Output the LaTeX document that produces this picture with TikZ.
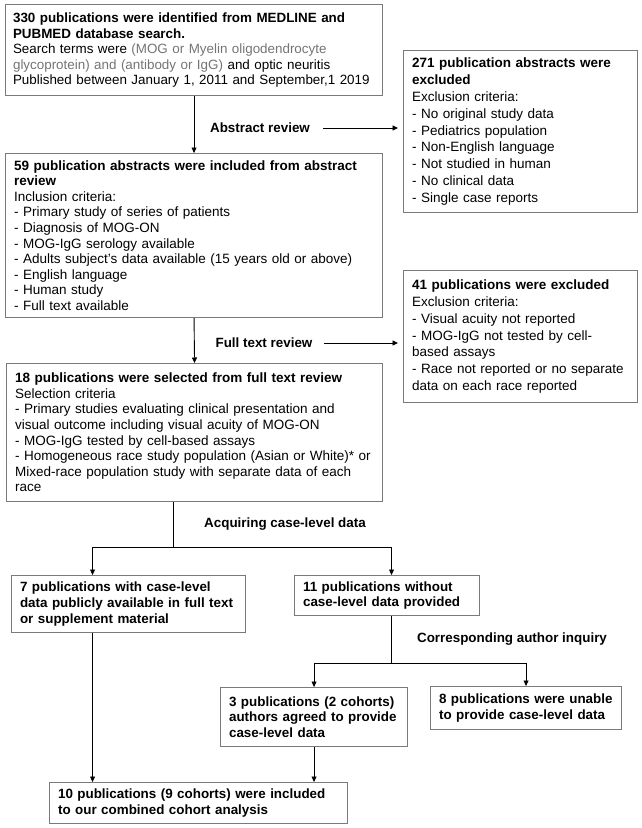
\documentclass[tikz,border=0pt]{standalone}
\usepackage{fontspec}
\setmainfont{Liberation Sans}
\usetikzlibrary{arrows.meta}
\definecolor{boxgray}{HTML}{7A7A7A}
\definecolor{txtgray}{HTML}{747474}
\newcommand{\bodyfont}{\fontsize{13.4}{15.5}\selectfont}
\newcommand{\widefont}{\fontsize{13.5}{16.9}\selectfont}
\newcommand{\tightfont}{\fontsize{13.5}{15.6}\selectfont}
\newcommand{\lowfont}{\fontsize{13.4}{15.6}\selectfont\bfseries}
\tikzset{
  box/.style={draw=boxgray, line width=1.1pt, inner xsep=8.5pt, inner ysep=2pt,
    anchor=north west, align=left},
  conn/.style={line width=0.9pt, draw=black},
  arr/.style={conn, -{Triangle[length=5.5pt,width=5pt]}},
  lab/.style={inner sep=0pt, font=\bfseries\fontsize{13.4}{15}\selectfont}
}
\begin{document}
\begin{tikzpicture}[x=1pt,y=-1pt]
\useasboundingbox (0,0) rectangle (642,828);
% boxes
\node[box, font=\bodyfont, inner xsep=7.5pt, text width=362pt, minimum height=91pt] (b1) at (5,4)
 {\textbf{330 publications were identified from MEDLINE and}\\
  \textbf{PUBMED database search.}\\
  Search terms were \textcolor{txtgray}{(MOG or Myelin oligodendrocyte}\\
  \textcolor{txtgray}{glycoprotein) and (antibody or IgG)} and optic neuritis\\
  Published between January 1, 2011 and September,1 2019};
\node[box, font=\widefont, text width=217pt, minimum height=162pt] (b271) at (403,50)
 {\textbf{271 publication abstracts were}\\
  \textbf{excluded}\\
  Exclusion criteria:\\
  - No original study data\\
  - Pediatrics population\\
  - Non-English language\\
  - Not studied in human\\
  - No clinical data\\
  - Single case reports};
\node[box, font=\tightfont, text width=360pt, minimum height=164pt] (b59) at (5,153)
 {\textbf{59 publication abstracts were included from abstract}\\
  \textbf{review}\\
  Inclusion criteria:\\
  - Primary study of series of patients\\
  - Diagnosis of MOG-ON\\
  - MOG-IgG serology available\\
  - Adults subject's data available (15 years old or above)\\
  - English language\\
  - Human study\\
  - Full text available};
\node[box, font=\widefont, text width=217pt, minimum height=132pt] (b41) at (403,270)
 {\textbf{41 publications were excluded}\\
  Exclusion criteria:\\
  - Visual acuity not reported\\
  - MOG-IgG not tested by cell-\\
  based assays\\
  - Race not reported or no separate\\
  data on each race reported};
\node[box, font=\tightfont, text width=359pt, minimum height=138pt] (b18) at (6,363)
 {\textbf{18 publications were selected from full text review}\\
  Selection criteria\\
  - Primary studies evaluating clinical presentation and\\
  visual outcome including visual acuity of MOG-ON\\
  - MOG-IgG tested by cell-based assays\\
  - Homogeneous race study population (Asian or White)* or\\
  Mixed-race population study with separate data of each\\
  race};
\node[box, font=\lowfont, text width=217pt, minimum height=57pt] (b7) at (11,575)
 {7 publications with case-level\\
  data publicly available in full text\\
  or supplement material};
\node[box, font=\lowfont, text width=168pt, minimum height=40pt] (b11) at (294,575)
 {11 publications without\\
  case-level data provided};
\node[box, font=\lowfont, text width=170pt, minimum height=59pt] (b3) at (220,687)
 {3 publications (2 cohorts)\\
  authors agreed to provide\\
  case-level data};
\node[box, font=\lowfont, text width=174pt, minimum height=43pt] (b8) at (430,686)
 {8 publications were unable\\
  to provide case-level data};
\node[box, font=\lowfont, text width=281pt, minimum height=41pt] (b10) at (49,782)
 {10 publications (9 cohorts) were included\\
  to our combined cohort analysis};
% labels
\node[lab] (l1) at (260,128) {Abstract review};
\node[lab] (l2) at (264,343) {Full text review};
\node[lab] (l3) at (285,524) {Acquiring case-level data};
\node[lab] (l4) at (512,639) {Corresponding author inquiry};
% connectors
\draw[arr] (b1.south) -- (b59.north);
\draw[arr, shorten >=5pt] ([xshift=13pt]l1.east) -- (l1.east -| b271.west);
\draw[arr] (b59.south) -- (b18.north);
\draw[arr, shorten >=5pt] ([xshift=11pt]l2.east) -- (l2.east -| b41.west);
\coordinate (j1) at (173,547);
\draw[conn] (j1 |- b18.south) -- (j1);
\draw[arr] (j1) -| ([xshift=-36pt]b7.north);
\draw[arr] (j1) -| ([xshift=4.5pt]b11.north);
\draw[arr] ([xshift=-36pt]b7.south) -- ([xshift=-36pt]b7.south |- b10.north);
\coordinate (j2) at (391,663);
\draw[conn] (j2 |- b11.south) -- (j2);
\draw[arr] (j2) -| (b3.north);
\draw[arr] (j2) -| (b8.north);
\draw[arr] (b3.south) -- (b3.south |- b10.north);
\end{tikzpicture}
\end{document}
